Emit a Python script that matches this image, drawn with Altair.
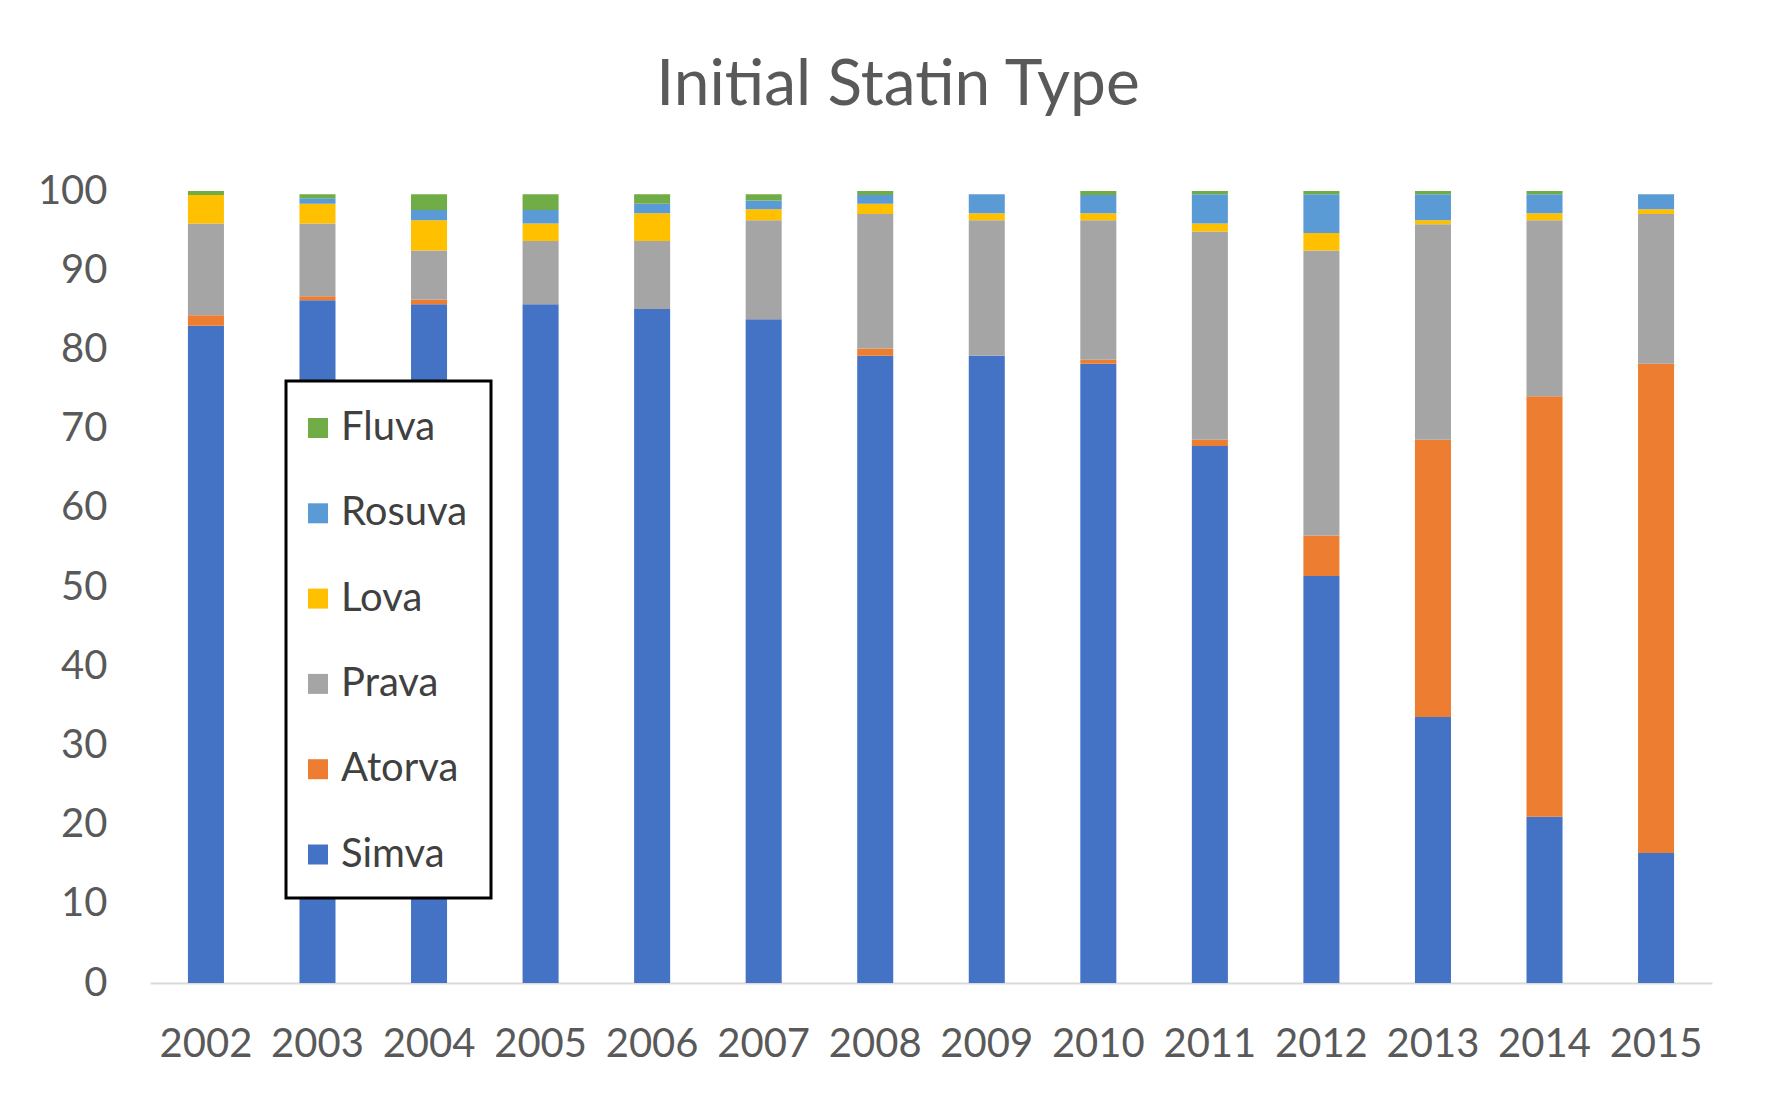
import altair as alt
import pandas as pd

years = ["2002", "2003", "2004", "2005", "2006", "2007", "2008",
         "2009", "2010", "2011", "2012", "2013", "2014", "2015"]

simva  = [83.0, 86.2, 85.7, 85.7, 85.1, 83.8, 79.2, 79.2, 78.2, 67.8, 51.4, 33.6, 21.0, 16.4]
atorva = [1.3, 0.5, 0.6, 0.0, 0.0, 0.0, 0.9, 0.0, 0.5, 0.8, 5.1, 35.0, 53.1, 61.8]
prava  = [11.6, 9.2, 6.2, 8.0, 8.6, 12.5, 17.0, 17.1, 17.6, 26.3, 36.0, 27.2, 22.2, 18.9]
lova   = [3.6, 2.5, 3.8, 2.2, 3.5, 1.4, 1.3, 0.9, 0.9, 1.0, 2.2, 0.5, 0.9, 0.6]
rosuva = [0.0, 0.7, 1.3, 1.7, 1.2, 1.1, 1.1, 2.4, 2.3, 3.7, 4.9, 3.3, 2.4, 1.9]
fluva  = [0.5, 0.5, 2.0, 2.0, 1.2, 0.8, 0.5, 0.0, 0.5, 0.4, 0.4, 0.4, 0.4, 0.0]

# legend order (top to bottom)
statins = ["Fluva", "Rosuva", "Lova", "Prava", "Atorva", "Simva"]
colors = ["#70AD47", "#5B9BD5", "#FFC000", "#A5A5A5", "#ED7D31", "#4472C4"]
# stacking order (bottom to top)
stack_order = ["Simva", "Atorva", "Prava", "Lova", "Rosuva", "Fluva"]

series = {"Simva": simva, "Atorva": atorva, "Prava": prava,
          "Lova": lova, "Rosuva": rosuva, "Fluva": fluva}

rows = []
for s in stack_order:
    for y, v in zip(years, series[s]):
        rows.append({"year": y, "statin": s, "value": v,
                     "rank": stack_order.index(s)})
df = pd.DataFrame(rows)

FONT = "Lato"

chart = alt.Chart(df).mark_bar().encode(
    x=alt.X("year:N", sort=years,
            scale=alt.Scale(paddingInner=0.677, paddingOuter=0.34),
            axis=alt.Axis(title=None, labelAngle=0, labelFont=FONT,
                          labelFontSize=40, labelColor="#595959",
                          labelPadding=41, ticks=False,
                          domainColor="#D9D9D9", domainWidth=2)),
    y=alt.Y("value:Q", stack="zero",
            scale=alt.Scale(domain=[0, 100], nice=False),
            axis=alt.Axis(title=None, values=list(range(0, 101, 10)),
                          grid=False, domain=False, ticks=False,
                          labelFont=FONT, labelFontSize=40,
                          labelColor="#595959", labelPadding=43)),
    color=alt.Color("statin:N",
                    scale=alt.Scale(domain=statins, range=colors),
                    legend=alt.Legend(title=" ", titleFontSize=1,
                                      titlePadding=3,
                                      orient="none",
                                      legendX=136, legendY=190,
                                      symbolType="square", symbolSize=400,
                                      symbolStrokeWidth=0, symbolOffset=-11,
                                      labelFont=FONT, labelFontSize=40,
                                      labelColor="#404040", labelOffset=3,
                                      rowPadding=45.3, padding=23,
                                      fillColor="white",
                                      strokeColor="black")),
    order=alt.Order("rank:Q", sort="ascending"),
).properties(
    width=1562,
    height=792,
    background="white",
    title=alt.TitleParams("Initial Statin Type", font=FONT, fontSize=64,
                          fontWeight="normal", color="#595959",
                          anchor="middle", dx=-33, offset=53),
    autosize=alt.AutoSizeParams(type="none"),
    padding={"left": 142, "top": 183, "right": 55, "bottom": 110},
).configure_view(stroke=None).configure_legend(strokeWidth=3)

chart.save("out.html", embed_options={"renderer": "svg", "actions": False})
